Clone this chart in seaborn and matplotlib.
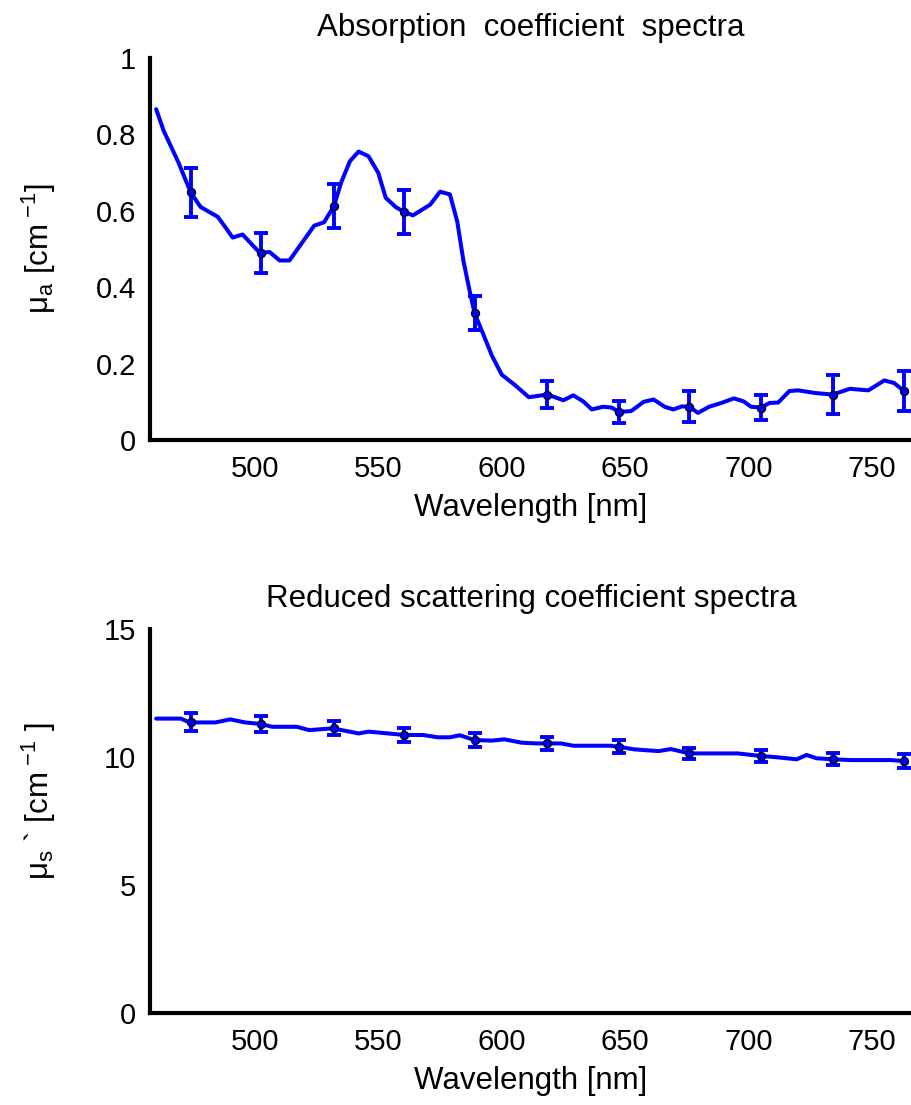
import matplotlib
matplotlib.use("Agg")
import matplotlib.pyplot as plt
import numpy as np
import pandas as pd
import seaborn as sns

# ---------------- data ----------------
abs_wl = [460, 463, 469, 474, 478, 485, 491, 495, 502, 506, 510, 514, 524, 528, 532, 535,
          538.5, 542, 546, 550, 553, 557, 560.5, 564, 571, 575, 579, 582, 584.5, 587, 589,
          592.5, 596, 600, 605.5, 611, 618.5, 625, 629, 633, 636.5, 641, 644.5, 647.5, 652.5,
          657.5, 661.5, 666, 669.5, 673, 676, 679.5, 684, 689, 694, 698, 701, 705, 708.5, 712,
          716.5, 720, 727, 734, 741, 748.5, 755, 759, 763]
abs_mu = [0.866, 0.81, 0.727, 0.648, 0.61, 0.584, 0.53, 0.538, 0.49, 0.492, 0.47, 0.47, 0.561,
          0.57, 0.612, 0.675, 0.73, 0.755, 0.743, 0.699, 0.634, 0.61, 0.597, 0.588, 0.616, 0.65,
          0.643, 0.571, 0.468, 0.39, 0.332, 0.277, 0.221, 0.171, 0.143, 0.112, 0.119, 0.104,
          0.117, 0.101, 0.08, 0.087, 0.085, 0.073, 0.076, 0.1, 0.106, 0.087, 0.08, 0.088, 0.087,
          0.071, 0.087, 0.097, 0.109, 0.101, 0.087, 0.085, 0.097, 0.098, 0.128, 0.13, 0.123,
          0.119, 0.134, 0.13, 0.156, 0.149, 0.128]

sct_wl = [460, 470, 473.5, 484, 490, 496, 502.5, 507, 517, 522, 531.5, 542, 546, 554, 560.5,
          568, 574, 579, 583, 589, 596, 601, 608, 614, 618.5, 624, 629, 644, 647.5, 653.5,
          663.5, 668.5, 676, 683.5, 695.5, 705, 711.5, 719.5, 723.5, 727.5, 734.5, 741.5,
          757.5, 763]
sct_mu = [11.5, 11.5, 11.35, 11.35, 11.47, 11.35, 11.29, 11.18, 11.18, 11.05, 11.12, 10.92,
          10.99, 10.92, 10.86, 10.86, 10.77, 10.77, 10.85, 10.66, 10.64, 10.69, 10.56, 10.53,
          10.53, 10.53, 10.44, 10.44, 10.4, 10.3, 10.23, 10.31, 10.14, 10.14, 10.14, 10.04,
          9.99, 9.91, 10.08, 9.95, 9.91, 9.88, 9.88, 9.84]

pt_wl = [474, 502.5, 532, 560.5, 589, 618.5, 647.5, 676, 705, 734, 763]
abs_pt = [0.648, 0.49, 0.612, 0.597, 0.332, 0.119, 0.073, 0.087, 0.085, 0.119, 0.128]
abs_err = [0.065, 0.053, 0.057, 0.057, 0.045, 0.035, 0.029, 0.04, 0.033, 0.05, 0.053]
sct_pt = [11.35, 11.29, 11.12, 10.86, 10.66, 10.53, 10.4, 10.14, 10.04, 9.91, 9.84]
sct_err = [0.35, 0.33, 0.27, 0.29, 0.26, 0.27, 0.26, 0.22, 0.23, 0.24, 0.26]

x_ticks = [500, 550, 600, 650, 700, 750]
x_ticklabels = ["500", "550", "600", "650", "700", "750"]
abs_yticks = [0, 0.2, 0.4, 0.6, 0.8, 1]
abs_yticklabels = ["0", "0.2", "0.4", "0.6", "0.8", "1"]
sct_yticks = [0, 5, 10, 15]
sct_yticklabels = ["0", "5", "10", "15"]

titles = ["Absorption  coefficient  spectra", "Reduced scattering coefficient spectra"]
ylabels = ["μ$_{\\mathrm{a}}$ [cm$^{\\ \\mathrm{-1}}$]",
           "μ$_{\\mathrm{s}}$ ` [cm$^{\\ \\mathrm{-1}}$ ]"]
xlabel = "Wavelength [nm]"

# ---------------- style ----------------
sns.set_style("white")
plt.rcParams["font.family"] = ["Liberation Sans", "DejaVu Sans"]
plt.rcParams["mathtext.fontset"] = "custom"
plt.rcParams["mathtext.rm"] = "Liberation Sans"
plt.rcParams["mathtext.it"] = "Liberation Sans:italic"
plt.rcParams["mathtext.bf"] = "Liberation Sans:bold"

FS = 21      # tick labels
LFS = 22.5   # titles and axis labels
BLUE = "#0000ff"

fig = plt.figure(figsize=(9.12, 11.05), dpi=100)
ax1 = fig.add_axes([150 / 912, 1 - 440 / 1105, 762 / 912, 382 / 1105])
ax2 = fig.add_axes([150 / 912, 1 - 1013 / 1105, 762 / 912, 384 / 1105])

panels = [
    (ax1, abs_wl, abs_mu, abs_pt, abs_err, (0, 1), abs_yticks, abs_yticklabels, 0.5),
    (ax2, sct_wl, sct_mu, sct_pt, sct_err, (0, 15), sct_yticks, sct_yticklabels, 0.552),
]

for i, (ax, wl, mu, ptv, err, ylim, yt, ytl, ly) in enumerate(panels):
    df = pd.DataFrame({"wl": wl, "mu": mu})
    sns.lineplot(data=df, x="wl", y="mu", ax=ax, color=BLUE, lw=2.9, sort=False,
                 estimator=None, zorder=2)
    ax.errorbar(pt_wl, ptv, yerr=err, fmt="none", ecolor=BLUE, elinewidth=2.8,
                capsize=5, capthick=2.8, zorder=3)
    dfp = pd.DataFrame({"wl": pt_wl, "mu": ptv})
    sns.scatterplot(data=dfp, x="wl", y="mu", ax=ax, color=BLUE, edgecolor="black",
                    linewidth=0.9, s=34, zorder=4)
    ax.set_xlim(457.5, 766.2)
    ax.set_ylim(*ylim)
    ax.set_xticks(x_ticks)
    ax.set_xticklabels(x_ticklabels)
    ax.set_yticks(yt)
    ax.set_yticklabels(ytl)
    for s in ["top", "right"]:
        ax.spines[s].set_visible(False)
    for s in ["left", "bottom"]:
        ax.spines[s].set_linewidth(3)
        ax.spines[s].set_color("black")
    ax.tick_params(axis="x", direction="in", length=7, width=2.2, pad=11,
                   labelsize=FS, colors="black")
    ax.tick_params(axis="y", direction="out", length=5, width=2.2, pad=5,
                   labelsize=FS, colors="black")
    ax.set_title(titles[i], fontsize=LFS, pad=16, color="black")
    ax.set_xlabel(xlabel, fontsize=LFS, labelpad=7, color="black")
    ax.set_ylabel(ylabels[i], fontsize=LFS, color="black")
    ax.yaxis.set_label_coords(-0.121, ly)

fig.savefig("out.png", dpi=100)
